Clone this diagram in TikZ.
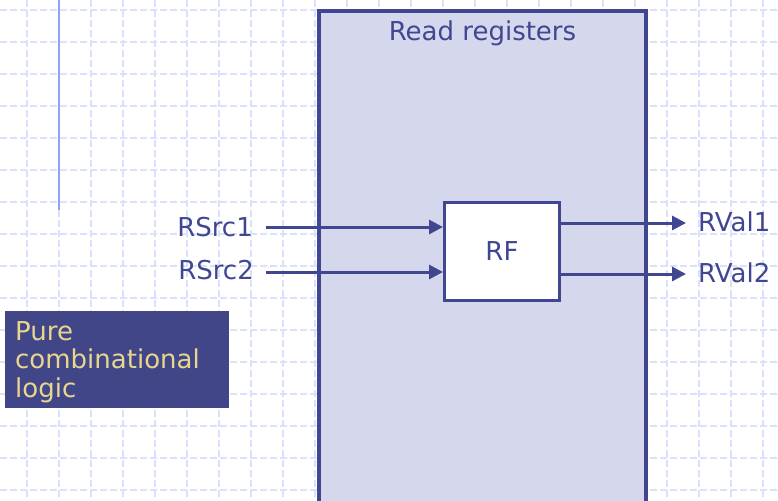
\documentclass[tikz,border=0pt]{standalone}
\usepackage{fontspec}
\setmainfont{DejaVu Sans}
\usetikzlibrary{arrows.meta}

\definecolor{ink}{RGB}{64,70,144}
\definecolor{gridblue}{RGB}{218,226,251}
\definecolor{stageFill}{RGB}{213,215,237}
\definecolor{noteFill}{RGB}{65,70,137}
\definecolor{noteText}{RGB}{233,214,142}
\definecolor{guide}{RGB}{140,164,245}

\tikzset{
  gridline/.style={draw=gridblue, line width=1.1pt, dash pattern=on 7pt off 3pt},
  stagebox/.style={draw=ink, fill=stageFill, line width=3.2pt},
  rfbox/.style={draw=ink, fill=white, line width=3pt, minimum width=115pt, minimum height=98pt, inner sep=0pt},
  wire/.style={draw=ink, line width=3pt, -{Triangle[length=14pt,width=14pt]}},
  sig/.style={text=ink, inner sep=0pt, font=\fontsize{26}{29}\selectfont},
  notebox/.style={fill=noteFill, minimum width=224pt, minimum height=97pt, inner sep=0pt},
  notetext/.style={text=noteText, inner sep=0pt, align=left, font=\fontsize{26}{28.6}\selectfont}
}

\begin{document}
\begin{tikzpicture}[x=1pt, y=-1pt]
  \useasboundingbox (0,0) rectangle (778,500);

  % background grid
  \foreach \gx in {27,59,...,763} \draw[gridline] (\gx,0) -- (\gx,500);
  \foreach \gy in {10,42,...,490} \draw[gridline] (0,\gy) -- (778,\gy);

  % margin guide line
  \draw[guide, line width=2pt] (59,0) -- (59,210);

  % read-registers stage
  \draw[stagebox] (319,11) rectangle (646,512);
  \node[sig, anchor=base] (title) at (482.5,40.5) {Read registers};

  % register file
  \node[rfbox, anchor=north west] (rf) at (443,201) {};
  \node[sig] (rflabel) at (rf.center) {RF};

  % inputs
  \coordinate (i1) at (266,227);
  \coordinate (i2) at (266,272);
  \node[sig, anchor=east] (src1) at (253,227) {RSrc1};
  \node[sig, anchor=east] (src2) at (254,270) {RSrc2};
  \draw[wire] (i1) -- (i1 -| rf.west);
  \draw[wire] (i2) -- (i2 -| rf.west);

  % outputs
  \coordinate (o1) at (686,223);
  \coordinate (o2) at (686,274);
  \node[sig, anchor=west] (val1) at (698,222) {RVal1};
  \node[sig, anchor=west] (val2) at (698,273) {RVal2};
  \draw[wire] (o1 -| rf.east) -- (o1);
  \draw[wire] (o2 -| rf.east) -- (o2);

  % note box
  \node[notebox, anchor=north west] (note) at (5,311) {};
  \node[notetext, anchor=north west] (notelabel) at (15,321) {Pure\\combinational\\logic};
\end{tikzpicture}
\end{document}
